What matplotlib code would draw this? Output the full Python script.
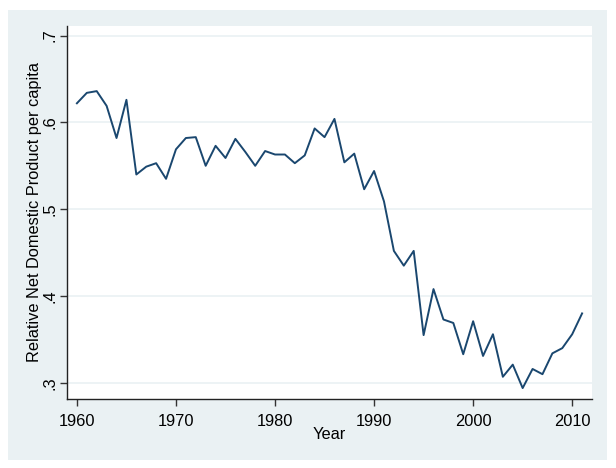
import numpy as np
import matplotlib.pyplot as plt
from matplotlib.patches import Rectangle

# Data
years = list(range(1960, 2012))
rndp = [0.622, 0.634, 0.636, 0.619, 0.582, 0.626, 0.540, 0.549, 0.553, 0.535,
        0.569, 0.582, 0.583, 0.550, 0.573, 0.559, 0.581, 0.566, 0.550, 0.567,
        0.563, 0.563, 0.553, 0.562, 0.593, 0.583, 0.604, 0.554, 0.564, 0.523,
        0.544, 0.509, 0.452, 0.435, 0.452, 0.355, 0.408, 0.373, 0.369, 0.333,
        0.371, 0.331, 0.356, 0.307, 0.321, 0.294, 0.316, 0.310, 0.334, 0.340,
        0.356, 0.380]
xticks = [1960, 1970, 1980, 1990, 2000, 2010]
yticks = [0.3, 0.4, 0.5, 0.6, 0.7]
ytick_labels = [".3", ".4", ".5", ".6", ".7"]

plt.rcParams['font.family'] = ['Liberation Sans', 'DejaVu Sans']

W, H = 616, 468
fig = plt.figure(figsize=(W / 100, H / 100), dpi=100, facecolor='white')
bg = '#eaf1f3'
fig.patches.append(Rectangle((8 / W, 1 - 460 / H), 599 / W, 450 / H,
                             transform=fig.transFigure, facecolor=bg,
                             edgecolor='none', zorder=-10))

ax = fig.add_axes([67 / W, 1 - 398.5 / H, 525 / W, 372.5 / H])
ax.set_facecolor('white')
ax.plot(years, rndp, color='#1a476f', linewidth=1.4, zorder=3)

ax.set_xlim(1959, 2012)
ax.set_ylim(0.282, 0.711)
ax.set_xticks(xticks)
ax.set_yticks(yticks)
ax.set_yticklabels(ytick_labels, rotation=90, va='center')
ax.grid(axis='y', color='#eaf1f3', linewidth=1.2, zorder=1)

for side in ['top', 'right']:
    ax.spines[side].set_visible(False)
for side in ['left', 'bottom']:
    ax.spines[side].set_color('#222222')
    ax.spines[side].set_linewidth(1.0)
ax.tick_params(axis='both', colors='#333333', labelcolor='black',
               labelsize=11.8, length=5, width=1)
ax.tick_params(axis='x', pad=6.5)
ax.tick_params(axis='y', pad=1.5)

ax.set_xlabel("Year", fontsize=11.8, labelpad=-1.5)
ax.set_ylabel("Relative Net Domestic Product per capita", fontsize=11.8, labelpad=1)

fig.savefig("out.png", dpi=100, facecolor='white')
